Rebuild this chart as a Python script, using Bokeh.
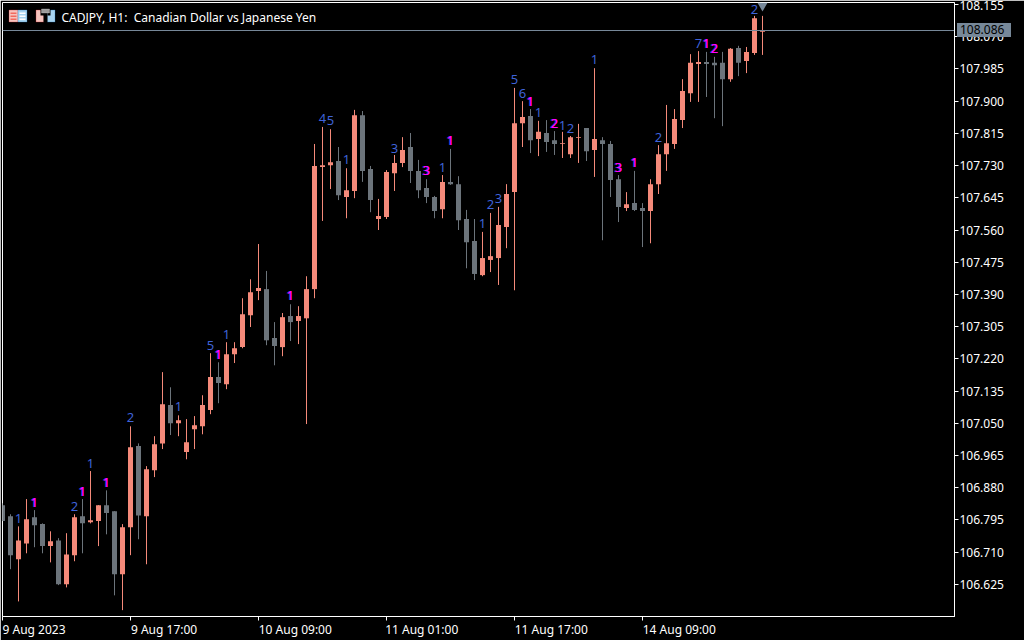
from bokeh.plotting import figure
from bokeh.layouts import column
from bokeh.models import ColumnDataSource, FixedTicker, Label, BoxAnnotation, Div
from bokeh.embed import file_html
from bokeh.resources import INLINE
from bokeh.core.properties import value

TITLE = "CADJPY, H1:\u00a0 Canadian Dollar vs Japanese Yen"
LAST_PRICE = 108.086
SIGNAL_PRICE = 108.152

opens = [106.834,106.805,106.691,106.733,106.802,106.784,106.726,106.741,106.625,106.702,
 106.805,106.789,106.792,106.834,106.818,106.652,106.776,106.990,106.805,106.926,
 106.997,107.098,107.050,106.974,107.034,107.042,107.085,107.172,107.153,107.232,
 107.251,107.335,107.399,107.404,107.275,107.251,107.333,107.320,107.327,107.404,
 107.726,107.731,107.742,107.647,107.663,107.863,107.721,107.589,107.594,107.710,
 107.737,107.779,107.716,107.671,107.647,107.615,107.687,107.681,107.589,107.531,
 107.441,107.481,107.486,107.568,107.660,107.842,107.861,107.800,107.816,107.797,
 107.787,107.760,107.803,107.829,107.771,107.797,107.787,107.694,107.618,107.631,
 107.618,107.610,107.681,107.760,107.787,107.850,107.921,107.998,108.003,108.001,
 108.001,107.958,108.040,108.006,108.027,108.083]
highs = [106.839,106.810,106.778,106.850,106.821,106.786,106.765,106.747,106.760,106.810,
 106.850,106.924,106.834,106.873,106.818,106.784,107.042,106.997,106.937,107.016,
 107.185,107.145,107.071,107.061,107.069,107.124,107.235,107.211,107.264,107.264,
 107.380,107.430,107.523,107.452,107.317,107.341,107.364,107.359,107.438,107.787,
 107.832,107.826,107.779,107.723,107.877,107.874,107.729,107.642,107.718,107.758,
 107.805,107.816,107.745,107.694,107.650,107.705,107.774,107.702,107.613,107.589,
 107.555,107.605,107.621,107.681,107.935,107.900,107.879,107.848,107.850,107.821,
 107.819,107.808,107.840,107.829,107.987,107.805,107.795,107.705,107.660,107.716,
 107.631,107.694,107.784,107.890,107.879,107.958,108.024,108.032,108.030,108.017,
 108.030,108.040,108.046,108.043,108.125,108.125]
lows = [106.792,106.665,106.580,106.707,106.723,106.707,106.683,106.623,106.617,106.686,
 106.707,106.786,106.726,106.757,106.596,106.557,106.702,106.744,106.678,106.908,
 106.982,107.019,107.016,106.955,106.982,107.021,107.074,107.103,107.140,107.209,
 107.248,107.304,107.375,107.256,107.203,107.227,107.267,107.259,107.048,107.380,
 107.584,107.668,107.639,107.591,107.644,107.687,107.607,107.560,107.589,107.663,
 107.726,107.684,107.644,107.631,107.591,107.591,107.679,107.560,107.459,107.428,
 107.438,107.449,107.415,107.512,107.401,107.779,107.763,107.755,107.766,107.758,
 107.750,107.750,107.737,107.742,107.700,107.533,107.647,107.581,107.610,107.610,
 107.515,107.525,107.655,107.716,107.774,107.829,107.898,107.898,107.911,107.855,
 107.834,107.951,107.966,107.974,108.022,108.022]
closes = [106.792,106.702,106.741,106.797,106.781,106.726,106.739,106.625,106.704,106.802,
 106.786,106.794,106.834,106.813,106.652,106.776,106.987,106.807,106.929,106.995,
 107.100,107.050,107.058,107.000,107.045,107.098,107.172,107.156,107.232,107.248,
 107.338,107.396,107.407,107.269,107.254,107.330,107.317,107.333,107.404,107.729,
 107.731,107.739,107.652,107.665,107.863,107.716,107.639,107.597,107.713,107.737,
 107.771,107.716,107.665,107.647,107.610,107.687,107.681,107.586,107.528,107.444,
 107.486,107.491,107.573,107.655,107.842,107.858,107.797,107.819,107.792,107.787,
 107.789,107.805,107.805,107.768,107.800,107.787,107.692,107.621,107.628,107.613,
 107.610,107.681,107.760,107.789,107.853,107.927,108.001,108.003,107.998,107.995,
 107.958,108.038,108.001,108.030,108.119,108.088]

blue_idx = [2,9,11,16,22,26,28,40,41,43,49,55,60,61,62,64,65,67,70,71,74,82,87,94]
blue_txt = ["1","2","1","2","1","5","1","4","5","1","3","1","1","2","3","5","6","1","1","2","1","2","7","2"]
blue_pos = [106.799,106.831,106.945,107.066,107.093,107.256,107.285,107.853,107.848,107.745,107.776,
            107.726,107.576,107.626,107.642,107.956,107.921,107.869,107.837,107.829,108.009,107.805,108.053,108.143]
mag_idx = [4,10,13,27,36,53,56,66,69,77,79,88,89]
mag_txt = ["1","1","1","1","1","3","1","1","2","3","1","1","2"]
mag_pos = [106.842,106.871,106.895,107.232,107.386,107.716,107.795,107.900,107.842,107.726,107.737,108.051,108.038]

y_ticks = [106.625,106.710,106.795,106.880,106.965,107.050,107.135,107.220,107.305,107.390,
           107.475,107.560,107.645,107.730,107.815,107.900,107.985,108.070,108.155]
x_ticks = [0,16,32,48,64,80]
x_label_at = [3.94,20.2,36.6,52.4,68.6,84.6]
x_labels = ["9 Aug 2023","9 Aug 17:00","10 Aug 09:00","11 Aug 01:00","11 Aug 17:00","14 Aug 09:00"]

BULL = "#F58A7A"
BEAR = "#6C747B"
WHITE = "#FFFFFF"
TAG = "#778899"
FONT = "Noto Sans"

W, H = 1024, 640
p = figure(width=W, height=H, output_backend="svg", toolbar_location=None,
           x_range=(0, 119), y_range=(106.5402, 108.1603),
           y_axis_location="right", background_fill_color="#000000",
           border_fill_color="#000000", outline_line_color=WHITE,
           min_border_left=2, min_border_right=70, min_border_top=2, min_border_bottom=24,
           tools="")
p.styles = {"position": "absolute", "left": "0px", "top": "0px"}
p.grid.visible = False

for ax in (p.xaxis[0], p.yaxis[0]):
    ax.axis_line_color = WHITE
    ax.major_tick_line_color = WHITE
    ax.minor_tick_line_color = None
    ax.major_tick_out = 4
    ax.major_tick_in = 0

p.yaxis[0].ticker = FixedTicker(ticks=y_ticks)
p.yaxis[0].major_label_overrides = {t: f"{t:.3f}" for t in y_ticks}
p.yaxis[0].major_label_text_color = WHITE
p.yaxis[0].major_label_text_font = FONT
p.yaxis[0].major_label_text_font_size = "12px"
p.yaxis[0].major_label_standoff = 1

# labels start at their tick, so the tick marks are the minor ticks and the labels sit at their centres
xa = p.xaxis[0]
xa.ticker = FixedTicker(ticks=x_label_at, minor_ticks=x_ticks)
xa.major_label_overrides = dict(zip(x_label_at, x_labels))
xa.major_tick_line_color = None
xa.major_tick_out = 4
xa.minor_tick_line_color = WHITE
xa.minor_tick_out = 4
xa.minor_tick_in = 0
xa.major_label_text_color = WHITE
xa.major_label_text_font = FONT
xa.major_label_text_font_size = "12px"
xa.major_label_standoff = 0

idx = list(range(len(opens)))
colors = [BULL if c > o else BEAR for o, c in zip(opens, closes)]
src = ColumnDataSource(dict(x=idx, o=opens, h=highs, l=lows, c=closes, col=colors))
p.segment(x0="x", x1="x", y0="l", y1="h", line_color="col", line_width=1, source=src)
p.vbar(x="x", width=0.625, top="o", bottom="c", fill_color="col", line_color=None, source=src)

p.hspan(y=[LAST_PRICE], line_color=TAG, line_width=1)
p.scatter([idx[-1]], [SIGNAL_PRICE], marker="inverted_triangle", size=10, fill_color=TAG, line_color=None)

TXT = dict(text_font=value(FONT), text_font_size="13px", text_align="center", text_baseline="middle")
p.text(x=blue_idx, y=blue_pos, text=blue_txt, text_color="#3F63D8", **TXT)
p.text(x=mag_idx, y=mag_pos, text=mag_txt, text_color="#2A4FD0", x_offset=-1, **TXT)
p.text(x=mag_idx, y=mag_pos, text=mag_txt, text_color="#FF00FF", **TXT)
p.text(x=mag_idx, y=mag_pos, text=mag_txt, text_color="#FF00FF", **TXT)

# window title
p.add_layout(Label(x=61, y=17, x_units="canvas", y_units="canvas", text=TITLE, text_color=WHITE,
                   text_font=FONT, text_font_size="12px", text_align="left", text_baseline="middle"))


def box(l, r, t, b, fill, line=None):
    p.add_layout(BoxAnnotation(left=l, right=r, top=t, bottom=b, left_units="canvas", right_units="canvas",
                               top_units="canvas", bottom_units="canvas", fill_color=fill, fill_alpha=1,
                               line_color=line, line_width=1, level="overlay"))


RED, BLU = "#C8242C", "#1F6FB4"
PINK, SKY = "#F6C4BE", "#A9D4F0"
# table icon
box(8.5, 17.5, 9.5, 21.5, PINK, RED)
box(17.5, 26.5, 9.5, 21.5, SKY, BLU)
for y in (12, 15, 18):
    box(10, 16, y, y + 1.6, "#F26A5E")
    box(19, 25, y, y + 1.6, "#FFFFFF")
# bars icon
box(35.5, 43.5, 9.5, 21.5, PINK, RED)
box(46.5, 54.5, 9.5, 21.5, SKY, BLU)
box(43, 47, 8, 21.8, "#000000")
box(40, 44, 8, 15, "#000000")
box(47, 50, 8, 15, "#000000")
box(41, 49, 8.5, 12.5, "#9A9A9A", "#D8D8D8")

# price tag sits over the axis: the canvas clips annotations to the frame, so it is an element of its own
tag = Div(text=f"{LAST_PRICE:.3f}", width=54, height=14, margin=0,
          styles={"position": "absolute", "left": "957px", "top": "23px", "z-index": "10",
                  "background-color": TAG, "color": "#000000", "font-family": FONT, "font-size": "12px",
                  "line-height": "14px", "padding-left": "3px", "box-sizing": "border-box"})

root = column(p, tag, width=W, height=H, margin=0,
              styles={"position": "absolute", "left": "0px", "top": "0px"})

open("out.html", "w").write(file_html(root, INLINE))
